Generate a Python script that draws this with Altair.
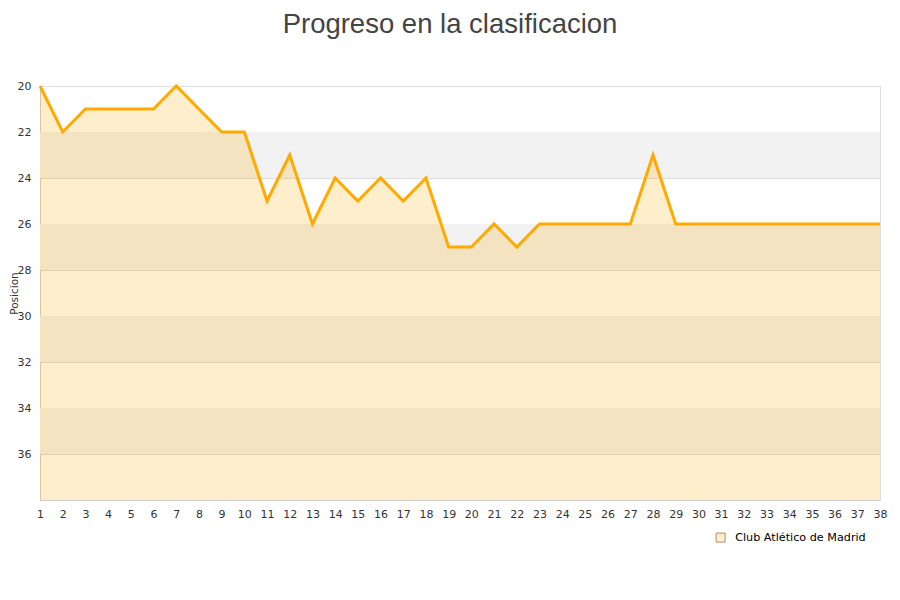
import pandas as pd
import altair as alt

# Posicion por jornada
jornadas = list(range(1, 39))
posiciones = [20, 22, 21, 21, 21, 21, 20, 21, 22, 22,
              25, 23, 26, 24, 25, 24, 25, 24, 27, 27,
              26, 27, 26, 26, 26, 26, 26, 23, 26, 26,
              26, 26, 26, 26, 26, 26, 26, 26]
equipo = "Club Atlético de Madrid"

# bandas grises alternas
banda_inicio = [22, 26, 30, 34]
banda_fin = [24, 28, 32, 36]
fondo = 38

df = pd.DataFrame({"jornada": jornadas, "posicion": posiciones,
                   "base": [fondo] * len(jornadas), "equipo": equipo})
bandas = pd.DataFrame({"y1": banda_inicio, "y2": banda_fin})

x_scale = alt.Scale(domain=[1, 38], nice=False, zero=False)
y_scale = alt.Scale(domain=[20, 38], reverse=True, nice=False, zero=False)

x_axis = alt.Axis(title=None, values=jornadas, grid=False, ticks=False,
                  labelPadding=8, domainColor="#cccccc", labelFlush=False,
                  labelOverlap=False)
y_axis = alt.Axis(title="Posicion", values=[20, 22, 24, 26, 28, 30, 32, 34, 36],
                  ticks=False, labelPadding=9, gridColor="#dddddd",
                  domainColor="#cccccc", titleFontSize=10.5, titleFontWeight="normal",
                  titleColor="#333333", titleX=-26, titleY=207, titleAngle=-90,
                  titleAlign="center", titleBaseline="middle")

rects = alt.Chart(bandas).mark_rect(color="#f2f2f2").encode(
    y=alt.Y("y1:Q", scale=y_scale, axis=y_axis),
    y2="y2:Q",
)

area = alt.Chart(df).mark_area(color="#ffaa00", fillOpacity=0.2).encode(
    x=alt.X("jornada:Q", scale=x_scale, axis=x_axis),
    y=alt.Y("posicion:Q", scale=y_scale, axis=y_axis),
    y2="base:Q",
)

# solo para la leyenda
leyenda = alt.Chart(df).mark_square().encode(
    x=alt.X("jornada:Q", scale=x_scale, axis=x_axis),
    y=alt.Y("posicion:Q", scale=y_scale, axis=y_axis),
    fill=alt.Fill("equipo:N", scale=alt.Scale(domain=[equipo], range=["#ffeecc"]),
                  legend=alt.Legend(title=None, orient="none", legendX=675, legendY=446,
                                    symbolType="square", symbolSize=81, labelOffset=9,
                                    symbolStrokeColor="#a89070", symbolStrokeWidth=1,
                                    symbolOpacity=1,
                                    labelFontSize=11.2, labelColor="#000000",
                                    labelFont="DejaVu Sans")),
).transform_filter("false")

line = alt.Chart(df).mark_line(color="#ffaa00", strokeWidth=3).encode(
    x=alt.X("jornada:Q", scale=x_scale, axis=x_axis),
    y=alt.Y("posicion:Q", scale=y_scale, axis=y_axis),
)

chart = alt.layer(rects, area, leyenda, line).properties(
    width=840,
    height=414,
    padding={"left": 32, "top": 78, "right": 12, "bottom": 92},
    autosize=alt.AutoSizeParams(type="none"),
    title=alt.TitleParams("Progreso en la clasificacion", fontSize=27.5, font="Liberation Sans",
                          fontWeight="normal", color="#444444", offset=42, anchor="middle",
                          dx=-10),
).configure_view(
    stroke="#dddddd"
).configure_axis(
    labelFont="DejaVu Sans", labelFontSize=11, labelColor="#333333", titleFont="DejaVu Sans"
).configure_axisX(
    labelOverlap=False
)

chart.save("out.html", embed_options={"renderer": "svg", "actions": False})
